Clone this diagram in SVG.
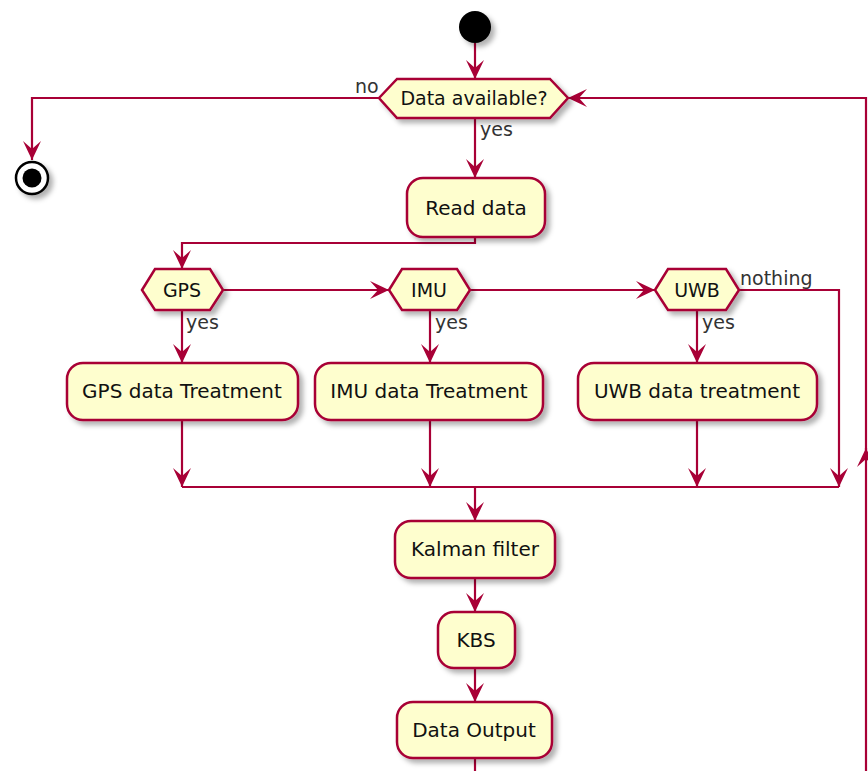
<svg xmlns="http://www.w3.org/2000/svg" width="868" height="771" viewBox="0 0 868 771">
  <style>
    .act { fill: #FEFECE; stroke: #A80036; stroke-width: 2.5; }
    .txt { font-family: "DejaVu Sans", "Liberation Sans", sans-serif; font-size: 20px; fill: #111; text-anchor: middle; }
    .htxt { font-family: "DejaVu Sans", "Liberation Sans", sans-serif; font-size: 19px; fill: #111; text-anchor: middle; }
    .lbl { font-family: "DejaVu Sans", "Liberation Sans", sans-serif; font-size: 19px; fill: #333; }
    .edge { fill: none; stroke: #A80036; stroke-width: 2.2; }
    .arr { marker-end: url(#ah); }
  </style>
  <defs>
    <filter id="shadow" x="-20%" y="-20%" width="150%" height="160%">
      <feDropShadow dx="4" dy="4" stdDeviation="2.5" flood-color="#000" flood-opacity="0.3"/>
    </filter>
    <marker id="ah" markerUnits="userSpaceOnUse" markerWidth="24" markerHeight="24" viewBox="-21 -12 24 24" refX="0" refY="0" orient="auto">
      <path d="M0,0 L-19,-9 L-11,0 L-19,9 Z" fill="#A80036"/>
    </marker>
  </defs>

  <rect width="868" height="771" fill="#ffffff"/>

  <!-- connectors -->
  <g id="connectors">
    <path class="edge arr" d="M475,43 V79"/>
    <path class="edge arr" d="M379,98 H32 V160"/>
    <path class="edge arr" d="M475,118 V178"/>
    <path class="edge arr" d="M475,237 V243 H182 V269"/>
    <path class="edge arr" d="M223,290 H389"/>
    <path class="edge arr" d="M470,290 H655"/>
    <path class="edge arr" d="M739,290 H839 V487"/>
    <path class="edge arr" d="M182,310 V363"/>
    <path class="edge arr" d="M430,310 V363"/>
    <path class="edge arr" d="M697,310 V363"/>
    <path class="edge arr" d="M182,420 V487"/>
    <path class="edge arr" d="M430,420 V487"/>
    <path class="edge arr" d="M697,420 V487"/>
    <path class="edge" d="M182,487 H839"/>
    <path class="edge arr" d="M475,487 V521"/>
    <path class="edge arr" d="M475,578 V612"/>
    <path class="edge arr" d="M475,668 V702"/>
    <path class="edge" d="M475,758 V771"/>
    <path class="edge arr" d="M866,771 V448"/>
    <path class="edge arr" d="M866,450 V98 H568"/>
    <text class="lbl" x="355" y="93">no</text>
    <text class="lbl" x="480" y="136">yes</text>
    <text class="lbl" x="186" y="329">yes</text>
    <text class="lbl" x="435" y="329">yes</text>
    <text class="lbl" x="702" y="329">yes</text>
    <text class="lbl" x="740" y="285">nothing</text>
  </g>

  <g id="start">
    <circle cx="475" cy="27" r="16" fill="#000" filter="url(#shadow)"/>
  </g>

  <g id="stop" filter="url(#shadow)">
    <circle cx="32" cy="178" r="16" fill="#fff" stroke="#000" stroke-width="2.5"/>
    <circle cx="32" cy="178" r="9.5" fill="#000"/>
  </g>

  <g id="data-available">
    <polygon class="act" filter="url(#shadow)" points="379,98 397,79 550,79 568,98 550,118 397,118"/>
    <text class="htxt" x="474" y="105">Data available?</text>
  </g>

  <g id="read-data">
    <rect class="act" filter="url(#shadow)" x="407" y="178" width="138" height="59" rx="16"/>
    <text class="txt" x="476" y="215">Read data</text>
  </g>

  <g id="gps">
    <polygon class="act" filter="url(#shadow)" points="142,290 155,269 210,269 223,290 210,310 155,310"/>
    <text class="htxt" x="182" y="297">GPS</text>
  </g>

  <g id="imu">
    <polygon class="act" filter="url(#shadow)" points="389,290 402,269 457,269 470,290 457,310 402,310"/>
    <text class="htxt" x="429" y="297">IMU</text>
  </g>

  <g id="uwb">
    <polygon class="act" filter="url(#shadow)" points="655,290 668,269 726,269 739,290 726,310 668,310"/>
    <text class="htxt" x="697" y="297">UWB</text>
  </g>

  <g id="gps-treatment">
    <rect class="act" filter="url(#shadow)" x="67" y="363" width="231" height="57" rx="16"/>
    <text class="txt" x="182" y="398">GPS data Treatment</text>
  </g>

  <g id="imu-treatment">
    <rect class="act" filter="url(#shadow)" x="315" y="363" width="228" height="57" rx="16"/>
    <text class="txt" x="429" y="398">IMU data Treatment</text>
  </g>

  <g id="uwb-treatment">
    <rect class="act" filter="url(#shadow)" x="578" y="363" width="239" height="57" rx="16"/>
    <text class="txt" x="697" y="398">UWB data treatment</text>
  </g>

  <g id="kalman-filter">
    <rect class="act" filter="url(#shadow)" x="395" y="521" width="160" height="57" rx="16"/>
    <text class="txt" x="475" y="556">Kalman filter</text>
  </g>

  <g id="kbs">
    <rect class="act" filter="url(#shadow)" x="438" y="612" width="77" height="56" rx="16"/>
    <text class="txt" x="476" y="647">KBS</text>
  </g>

  <g id="data-output">
    <rect class="act" filter="url(#shadow)" x="397" y="702" width="155" height="56" rx="16"/>
    <text class="txt" x="474" y="737">Data Output</text>
  </g>
</svg>
